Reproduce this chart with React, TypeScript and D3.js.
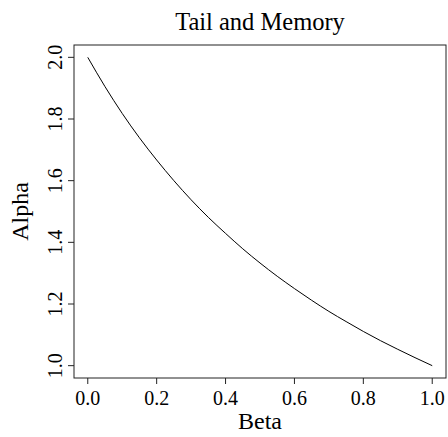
import React, { useEffect, useRef } from "react";
import * as d3 from "d3";

// values
const beta = [0, 0.05, 0.1, 0.15, 0.2, 0.25, 0.3, 0.35, 0.4, 0.45, 0.5, 0.55, 0.6, 0.65, 0.7, 0.75, 0.8, 0.85, 0.9, 0.95, 1.0];
const alpha = [2.0, 1.905, 1.818, 1.739, 1.667, 1.6, 1.538, 1.481, 1.429, 1.379, 1.333, 1.29, 1.25, 1.212, 1.176, 1.143, 1.111, 1.081, 1.053, 1.026, 1.0];

const xTicks = [0, 0.2, 0.4, 0.6, 0.8, 1.0];
const yTicks = [1.0, 1.2, 1.4, 1.6, 1.8, 2.0];

const title = "Tail and Memory";
const xLabel = "Beta";
const yLabel = "Alpha";

const W = 448;
const H = 437;
const FONT = "'Liberation Serif', 'DejaVu Serif', serif";

function LineChart() {
  const svgRef = useRef<SVGSVGElement>(null);

  useEffect(() => {
    const svg = d3.select(svgRef.current);
    svg.selectAll("*").remove();

    const box = { left: 74, right: 446, top: 45, bottom: 378 };
    // R-style 4% padding around the data range
    const x = d3.scaleLinear().domain([-0.04, 1.04]).range([box.left, box.right]);
    const y = d3.scaleLinear().domain([0.96, 2.04]).range([box.bottom, box.top]);

    svg.append("rect")
      .attr("x", box.left)
      .attr("y", box.top)
      .attr("width", box.right - box.left)
      .attr("height", box.bottom - box.top)
      .attr("fill", "none")
      .attr("stroke", "#222")
      .attr("stroke-width", 1);

    const pts = beta.map((b, i) => [b, alpha[i]] as [number, number]);
    const line = d3.line<[number, number]>()
      .x((d) => x(d[0]))
      .y((d) => y(d[1]))
      .curve(d3.curveMonotoneX);

    svg.append("path")
      .attr("d", line(pts))
      .attr("fill", "none")
      .attr("stroke", "#000")
      .attr("stroke-width", 1);

    // x axis
    const xAxis = svg.append("g");
    xTicks.forEach((t) => {
      xAxis.append("line")
        .attr("x1", x(t)).attr("x2", x(t))
        .attr("y1", box.bottom).attr("y2", box.bottom + 6)
        .attr("stroke", "#222");
      xAxis.append("text")
        .attr("x", x(t))
        .attr("y", 405)
        .attr("text-anchor", "middle")
        .style("font-family", FONT)
        .style("font-size", "20px")
        .text(t.toFixed(1));
    });

    // y axis
    const yAxis = svg.append("g");
    yTicks.forEach((t) => {
      yAxis.append("line")
        .attr("x1", box.left - 6).attr("x2", box.left)
        .attr("y1", y(t)).attr("y2", y(t))
        .attr("stroke", "#222");
      yAxis.append("text")
        .attr("transform", `translate(62,${y(t)}) rotate(-90)`)
        .attr("text-anchor", "middle")
        .style("font-family", FONT)
        .style("font-size", "20px")
        .text(t.toFixed(1));
    });

    svg.append("text")
      .attr("x", (box.left + box.right) / 2)
      .attr("y", 30)
      .attr("text-anchor", "middle")
      .style("font-family", FONT)
      .style("font-size", "24.5px")
      .text(title);

    svg.append("text")
      .attr("x", (box.left + box.right) / 2)
      .attr("y", 429)
      .attr("text-anchor", "middle")
      .style("font-family", FONT)
      .style("font-size", "24px")
      .text(xLabel);

    svg.append("text")
      .attr("transform", `translate(28,${(box.top + box.bottom) / 2}) rotate(-90)`)
      .attr("text-anchor", "middle")
      .style("font-family", FONT)
      .style("font-size", "24px")
      .text(yLabel);
  }, []);

  return (
    <svg
      ref={svgRef}
      width={W}
      height={H}
      style={{ position: "absolute", left: 0, top: 0, background: "#fff" }}
    ></svg>
  );
}

export default function App() {
  return <LineChart />;
}
